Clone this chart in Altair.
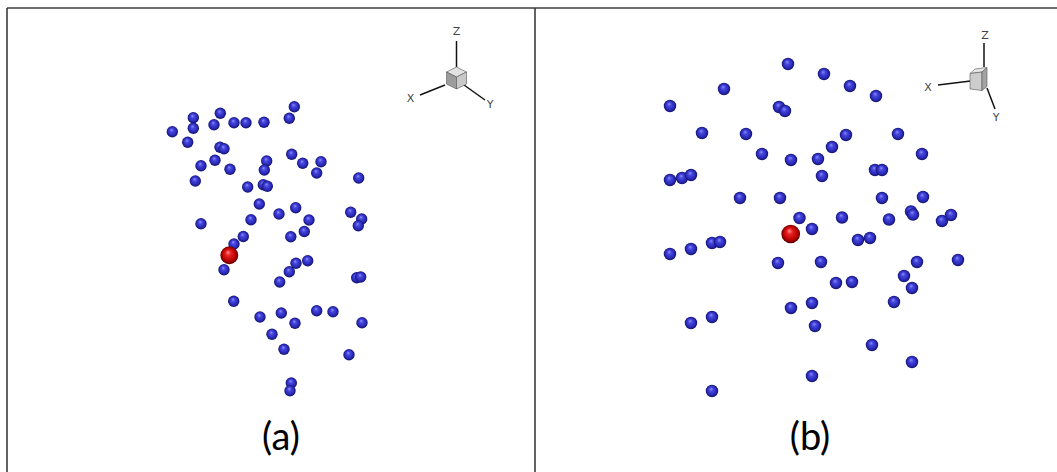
import altair as alt
import pandas as pd

W, H = 1057, 472

# Projected sphere centres, panel (a)
a_x = [294.3, 193.3, 220.3, 289.3, 193.3, 214, 234, 246, 264, 172.3,
       187.7, 220, 224, 291.7, 302.7, 321, 266.7, 264.3, 316.7, 201,
       215, 230, 195.3, 247.7, 263.3, 267.3, 358.7, 259.3, 295.7, 279,
       309, 350.7, 361.7, 358.3, 201, 251, 304.3, 243.3, 290.8, 234,
       224, 296, 307.7, 289.3, 279.7, 356.7, 360.7, 233.7, 260, 281.3,
       295, 316.7, 333, 362, 272, 284, 349, 291.3, 290]
a_y = [106.7, 117.7, 113.3, 118.3, 128.3, 124.7, 122.7, 122.7, 122.3, 131.7,
       142.3, 147.3, 148.7, 154.3, 163.3, 161.7, 161, 170, 173, 165.7,
       160.3, 169.3, 181, 187, 184.7, 186.3, 178, 204, 207.7, 214,
       220, 212.3, 219, 225.7, 223.7, 219.7, 231.5, 236.5, 236.8, 244,
       269.7, 263.3, 260.7, 271.7, 282, 277.7, 277, 301.3, 317, 313,
       323.3, 310.7, 311.7, 322.7, 334.3, 349.3, 354.7, 383, 390.7]

# Projected sphere centres, panel (b)
b_x = [788, 824, 850, 876, 724, 670, 779, 785, 702, 746,
       846, 898, 832, 762, 791, 818, 922, 875, 882, 822,
       670, 682, 691, 740, 780, 882, 923, 799.5, 842, 889,
       911, 913, 942, 951, 812, 858, 870, 670, 691, 712,
       720, 778, 821, 917, 958, 904, 836, 852, 912, 812,
       791, 894, 712, 691, 815, 872, 912, 812, 712]
b_y = [64, 74, 86, 96, 89, 106, 107, 111, 133, 134,
       135, 134, 147, 154, 160, 159, 154, 170, 170, 176,
       180, 178, 175, 198, 198, 198, 197, 218, 217.5, 219.5,
       211.5, 214.5, 221, 215, 229, 240, 238, 254, 249, 243,
       242, 263, 262, 262, 260, 276, 283, 282, 288, 303,
       308, 302, 317, 323, 326, 345, 362, 376, 391]

# Highlighted (red) sphere in each panel
red_a = (229.3, 255.3)
red_b = (790.7, 234)

# Panel captions
caption_text = ["(a)", "(b)"]
caption_x = [281, 810]
caption_y = [439, 439]

# Panel frame segments
frame_x1 = [7, 7, 535]
frame_y1 = [8, 8, 8]
frame_x2 = [W, 7, 535]
frame_y2 = [8, H, H]

# Orientation triads: axis segments and their letters
tri_x1 = [456.5, 445, 464, 984, 970.5, 987]
tri_y1 = [67, 85, 85, 67, 81, 88]
tri_x2 = [456.5, 420, 485, 984, 938, 995]
tri_y2 = [41, 95, 100, 43, 85, 109]
tri_lab = ["Z", "X", "Y", "Z", "X", "Y"]
tri_lab_x = [456.5, 410.5, 490, 985, 928, 996]
tri_lab_y = [31.5, 99, 105, 36, 88, 118]

xs = alt.Scale(domain=[0, W])
ys = alt.Scale(domain=[H, 0])


def X(f="x"):
    return alt.X(f"{f}:Q", scale=xs, axis=None)


def Y(f="y"):
    return alt.Y(f"{f}:Q", scale=ys, axis=None)


def ball(stops):
    return alt.RadialGradient(
        gradient="radial",
        stops=[alt.GradientStop(color=c, offset=o) for o, c in stops],
        x1=0.42, y1=0.32, r1=0.0, x2=0.5, y2=0.5, r2=0.5,
    )


blue_fill = ball([(0, "#a0a0ff"), (0.3, "#4848e0"), (0.75, "#2828b8"), (1, "#121264")])
red_fill = ball([(0, "#ff9a9a"), (0.3, "#e82020"), (0.75, "#b80000"), (1, "#580000")])

df_a = pd.DataFrame({"x": a_x, "y": a_y})
df_b = pd.DataFrame({"x": b_x, "y": b_y})
df_ra = pd.DataFrame({"x": [red_a[0]], "y": [red_a[1]]})
df_rb = pd.DataFrame({"x": [red_b[0]], "y": [red_b[1]]})
df_frame = pd.DataFrame({"x": frame_x1, "y": frame_y1, "x2": frame_x2, "y2": frame_y2})
df_tri = pd.DataFrame({"x": tri_x1, "y": tri_y1, "x2": tri_x2, "y2": tri_y2})
df_tlab = pd.DataFrame({"x": tri_lab_x, "y": tri_lab_y, "t": tri_lab})
df_cap = pd.DataFrame({"x": caption_x, "y": caption_y, "t": caption_text})

frame = alt.Chart(df_frame).mark_rule(color="#3c3c3c", strokeWidth=1.6).encode(
    x=X(), y=Y(), x2="x2:Q", y2="y2:Q")

triad = alt.Chart(df_tri).mark_rule(color="#111111", strokeWidth=1.5).encode(
    x=X(), y=Y(), x2="x2:Q", y2="y2:Q")

triad_text = alt.Chart(df_tlab).mark_text(
    font="DejaVu Sans", fontSize=11, color="#444444", align="center", baseline="middle"
).encode(x=X(), y=Y(), text="t:N")

# Small shaded cubes at the triad origins (three faces each)
cube_a = pd.DataFrame({"x": [456.5], "y": [78]})
cube_b = pd.DataFrame({"x": [978.5], "y": [79]})
faces_a = [
    ("M0,-1.1L1,-0.6L0,-0.1L-1,-0.6Z", "#e2e2e2"),
    ("M-1,-0.6L0,-0.1L0,1.1L-1,0.6Z", "#9c9c9c"),
    ("M0,-0.1L1,-0.6L1,0.6L0,1.1Z", "#c9c9c9"),
]
faces_b = [
    ("M-0.85,-0.55L-0.35,-1.0L0.85,-1.15L0.35,-0.7Z", "#e6e6e6"),
    ("M-0.85,-0.55L0.35,-0.7L0.35,1.15L-0.85,1.0Z", "#cdcdcd"),
    ("M0.35,-0.7L0.85,-1.15L0.85,0.75L0.35,1.15Z", "#a4a4a4"),
]
cube_layers = []
for df_c, faces in ((cube_a, faces_a), (cube_b, faces_b)):
    for path, col in faces:
        cube_layers.append(
            alt.Chart(df_c).mark_point(
                shape=path, filled=True, fill=col, stroke="#555555",
                strokeWidth=0.6, size=400, opacity=1
            ).encode(x=X(), y=Y())
        )

balls_a = alt.Chart(df_a).mark_circle(size=130, fill=blue_fill, opacity=1).encode(x=X(), y=Y())
balls_b = alt.Chart(df_b).mark_circle(size=155, fill=blue_fill, opacity=1).encode(x=X(), y=Y())
ball_ra = alt.Chart(df_ra).mark_circle(size=320, fill=red_fill, opacity=1).encode(x=X(), y=Y())
ball_rb = alt.Chart(df_rb).mark_circle(size=350, fill=red_fill, opacity=1).encode(x=X(), y=Y())

captions = alt.Chart(df_cap).mark_text(
    font="Lato", fontSize=38, color="#000000", align="center", baseline="middle"
).encode(x=X(), y=Y(), text="t:N")

chart = alt.layer(
    frame, triad, *cube_layers, triad_text,
    balls_a, balls_b, ball_ra, ball_rb, captions
).properties(
    width=W, height=H, padding=0, autosize=alt.AutoSizeParams(type="none"),
    background="#ffffff"
).configure_view(stroke=None)

chart.save("out.html", embed_options={"renderer": "svg", "actions": False})
